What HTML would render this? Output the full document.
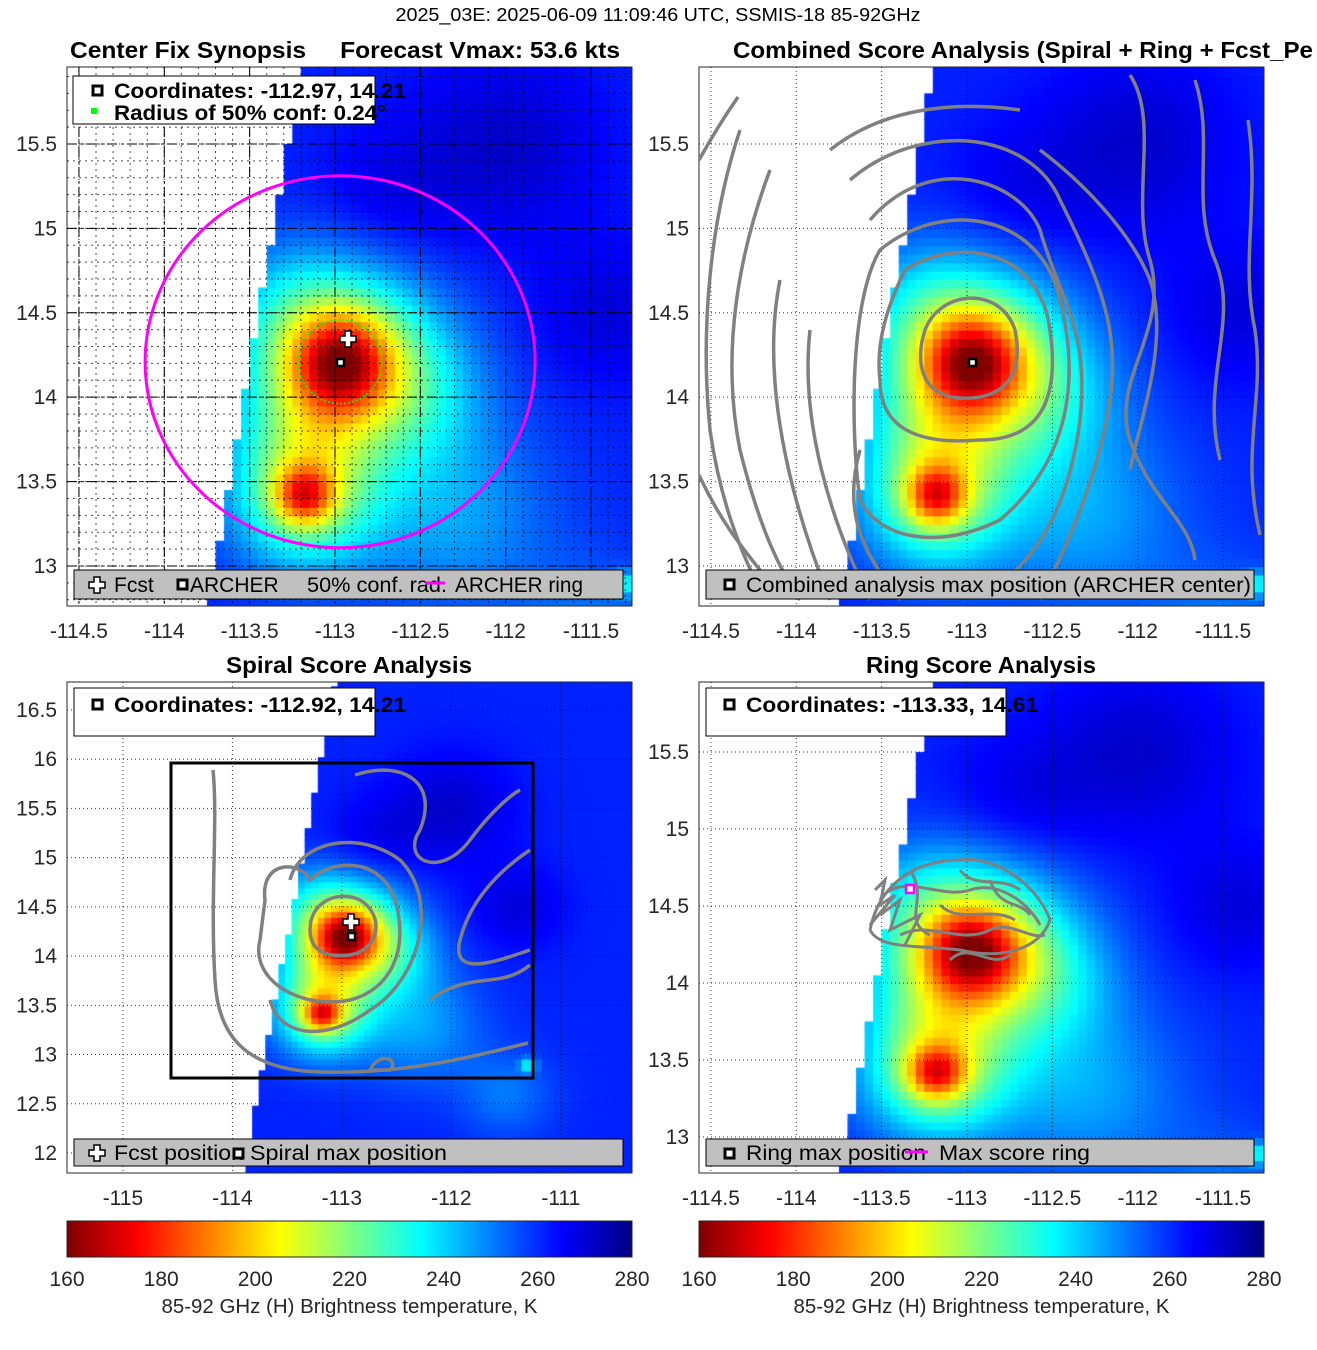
<!DOCTYPE html>
<html><head><meta charset="utf-8">
<style>
body{margin:0;background:#fff;width:1317px;height:1350px;overflow:hidden;position:relative;font-family:"Liberation Sans",sans-serif}
canvas{position:absolute}
svg{position:absolute;left:0;top:0}
</style></head><body>
<canvas id="c1" style="left:67px;top:67px" width="565" height="539"></canvas>
<canvas id="c2" style="left:699px;top:67px" width="565" height="539"></canvas>
<canvas id="c3" style="left:67px;top:682px" width="565" height="491"></canvas>
<canvas id="c4" style="left:699px;top:682px" width="565" height="491"></canvas>
<canvas id="cb1" style="left:67px;top:1221px" width="565" height="36"></canvas>
<canvas id="cb2" style="left:699px;top:1221px" width="565" height="36"></canvas>
<svg id="ov" width="1317" height="1350"></svg>
<script>
// brightness-temperature cold features: lon, lat, depth (K), sigma (deg)
const blobLon = [-112.97,-112.97,-113.18,-113.18,-113.2,-112.5,-112.3,-112.0,-111.4,-111.3,-111.5,-113.3,-112.7];
const blobLat = [14.21,14.21,13.42,13.42,13.8,14.0,13.3,15.5,14.5,12.9,12.6,14.6,15.2];
const blobDepth=[45,55,40,42,8,12,15,-10,-8,25,10,8,-6];
const blobSigma=[0.2,0.38,0.12,0.3,0.25,0.3,0.4,0.4,0.3,0.05,0.3,0.25,0.3];
const baseTb = 261;
const cbTicks = [160,180,200,220,240,260,280];
const p1xTicks=[-114.5,-114,-113.5,-113,-112.5,-112,-111.5];
const p1yTicks=[13,13.5,14,14.5,15,15.5];
const p3xTicks=[-115,-114,-113,-112,-111];
const p3yTicks=[12,12.5,13,13.5,14,14.5,15,15.5,16,16.5];
const p4yTicks=[13,13.5,14,14.5,15,15.5];

const panels=[
 {id:'c1',x0:67,x1:632,y0:67,y1:606,lon0:-114.57,lon1:-111.26,lat0:15.956,lat1:12.763,cell:0.05},
 {id:'c2',x0:699,x1:1264,y0:67,y1:606,lon0:-114.57,lon1:-111.26,lat0:15.956,lat1:12.763,cell:0.05},
 {id:'c3',x0:67,x1:632,y0:682,y1:1173,lon0:-115.511,lon1:-110.35,lat0:16.784,lat1:11.797,cell:0.06},
 {id:'c4',x0:699,x1:1264,y0:682,y1:1173,lon0:-114.57,lon1:-111.26,lat0:15.955,lat1:12.766,cell:0.05}];
function X(p,lon){return p.x0+(lon-p.lon0)/(p.lon1-p.lon0)*(p.x1-p.x0);}
function Y(p,lat){return p.y0+(lat-p.lat0)/(p.lat1-p.lat0)*(p.y1-p.y0);}
function tb(lon,lat){let t=baseTb;for(let i=0;i<blobLon.length;i++){const dx=lon-blobLon[i],dy=lat-blobLat[i];t-=blobDepth[i]*Math.exp(-(dx*dx+dy*dy)/(2*blobSigma[i]*blobSigma[i]));}return Math.max(160,Math.min(280,t));}
function edge(lat){return -113.2-(15.95-lat)*0.17;}
function jet(T){const t=(280-T)/120;const c=v=>Math.round(255*Math.max(0,Math.min(1,v)));return `rgb(${c(1.5-Math.abs(4*t-3))},${c(1.5-Math.abs(4*t-2))},${c(1.5-Math.abs(4*t-1))})`;}
panels.forEach(p=>{const ctx=document.getElementById(p.id).getContext('2d');ctx.fillStyle='#fff';ctx.fillRect(0,0,600,600);
 for(let lat=Math.floor(p.lat1/p.cell)*p.cell;lat<p.lat0+p.cell;lat+=p.cell){for(let lon=Math.floor(p.lon0/p.cell)*p.cell;lon<p.lon1+p.cell;lon+=p.cell){
  const cl=lon+p.cell/2,ca=lat+p.cell/2; if(cl<edge(ca))continue; ctx.fillStyle=jet(tb(cl,ca));
  const a=X(p,lon)-p.x0,b=Y(p,lat+p.cell)-p.y0,w=X(p,lon+p.cell)-X(p,lon)+1,h=Y(p,lat)-Y(p,lat+p.cell)+1;ctx.fillRect(a,b,w,h);}}});
['cb1','cb2'].forEach(id=>{const ctx=document.getElementById(id).getContext('2d');for(let i=0;i<565;i++){ctx.fillStyle=jet(160+i/565*120);ctx.fillRect(i,0,1,36);}});

const NS='http://www.w3.org/2000/svg';const ov=document.getElementById('ov');
function el(tag,attrs,parent){const e=document.createElementNS(NS,tag);for(const k in attrs)e.setAttribute(k,attrs[k]);(parent||ov).appendChild(e);return e;}
function txt(x,y,s,size,anchor,weight,name,len){const t=el('text',{x:x,y:y,'font-size':size,'text-anchor':anchor||'middle','font-weight':weight||'normal',fill:'#000','font-family':'Liberation Sans, sans-serif'});if(len){t.setAttribute('textLength',len);t.setAttribute('lengthAdjust','spacingAndGlyphs');}t.style.whiteSpace='pre';t.textContent=s;return t;}
const defs=el('defs',{});
panels.forEach((p,i)=>{const cp=el('clipPath',{id:'clip'+i},defs);el('rect',{x:p.x0,y:p.y0,width:p.x1-p.x0,height:p.y1-p.y0},cp);});

function axes(i,xt,yt){const p=panels[i];
 xt.forEach(v=>{const x=X(p,v);el('line',{x1:x,x2:x,y1:p.y0,y2:p.y1,stroke:'#000','stroke-width':1,'stroke-dasharray':'1,3',opacity:0.8});
  const t=txt(x,p.y1+32,String(v),21,'middle','normal','x-tick-label');t.setAttribute('fill','#262626');});
 yt.forEach(v=>{const y=Y(p,v);el('line',{x1:p.x0,x2:p.x1,y1:y,y2:y,stroke:'#000','stroke-width':1,'stroke-dasharray':'1,3',opacity:0.8});
  const t=txt(p.x0-10,y+7,String(v),21,'end','normal','y-tick-label');t.setAttribute('fill','#262626');});
 const r=el('rect',{x:p.x0,y:p.y0,width:p.x1-p.x0,height:p.y1-p.y0,fill:'none',stroke:'#262626','stroke-width':1});}
axes(0,p1xTicks,p1yTicks);axes(1,p1xTicks,p1yTicks);axes(2,p3xTicks,p3yTicks);axes(3,p1xTicks,p4yTicks);
// panel1 dense grid
{const p=panels[0];const g=el('g',{'clip-path':'url(#clip0)'});
 for(let v=-114.6;v<-111.2;v+=0.1){const x=X(p,v);el('line',{x1:x,x2:x,y1:p.y0,y2:p.y1,stroke:'#000','stroke-dasharray':'2,4',opacity:0.7},g);}
 for(let v=12.8;v<16;v+=0.1){const y=Y(p,v);el('line',{x1:p.x0,x2:p.x1,y1:y,y2:y,stroke:'#000','stroke-dasharray':'2,4',opacity:0.7},g);}
 p1xTicks.forEach(v=>{const x=X(p,v);el('line',{x1:x,x2:x,y1:p.y0,y2:p.y1,stroke:'#000','stroke-dasharray':'10,4,2,4'},g);});
 p1yTicks.forEach(v=>{const y=Y(p,v);el('line',{x1:p.x0,x2:p.x1,y1:y,y2:y,stroke:'#000','stroke-dasharray':'10,4,2,4'},g);});
 const ring=el('ellipse',{cx:X(p,-112.97),cy:Y(p,14.21),rx:195,ry:186,fill:'none',stroke:'#ff00ff','stroke-width':3},g);
 const cf=el('circle',{cx:X(p,-112.97),cy:Y(p,14.21),r:42,fill:'none',stroke:'#00ff00','stroke-width':1.5,'stroke-dasharray':'2,2'},g);}
// panel2 contours
{const g=el('g',{'clip-path':'url(#clip1)',fill:'none',stroke:'#808080','stroke-width':3.5});
 ['M925,330 C940,290 1000,285 1015,330 C1025,380 1000,400 960,398 C920,396 915,360 925,330 Z',
  'M905,270 C960,235 1040,250 1050,330 C1060,400 1040,440 980,440 C920,445 880,430 880,380 C875,340 890,300 905,270 Z',
  'M880,250 C940,200 1040,210 1060,300 C1080,380 1070,460 1000,520 C940,550 880,540 860,500 C850,430 850,300 880,250 Z',
  'M870,220 C930,150 1020,180 1040,230 C1060,300 1090,330 1080,420 C1070,500 1040,560 990,590 M860,450 C840,520 870,560 900,600',
  'M850,180 C920,120 1030,130 1060,200 C1100,280 1120,330 1110,400 C1100,470 1070,540 1040,600 M810,330 C800,420 830,520 870,600',
  'M830,150 C880,110 950,100 1020,110 M780,280 C760,380 790,500 830,600 M1040,150 C1080,180 1130,230 1150,280 C1170,340 1140,420 1130,470',
  'M770,170 C740,250 720,350 740,450 C760,530 780,570 800,600',
  'M740,130 C710,220 700,330 710,430 C720,500 740,550 760,590',
  'M738,97 C715,130 705,150 699,160 M699,475 C720,520 740,545 760,570',
  'M1130,75 C1160,120 1130,200 1150,260 C1170,330 1110,380 1130,440 C1150,500 1190,520 1195,560',
  'M1195,80 C1215,140 1190,200 1215,260 C1240,320 1200,380 1220,460',
  'M1248,120 C1260,200 1240,260 1255,330 C1265,400 1240,450 1260,535'].forEach(d=>el('path',{d:d},g));
 el('rect',{x:969,y:359,width:7,height:7,fill:'#fff',stroke:'#000','stroke-width':2.5});}
// panel3 contours
{const g=el('g',{'clip-path':'url(#clip2)',fill:'none',stroke:'#808080','stroke-width':3.5});
 ['M213,770 C218,820 210,900 215,980 C218,1040 250,1070 320,1072 C400,1074 460,1060 528,1043',
  'M265,900 C260,860 300,860 310,880 C330,860 380,855 395,900 C410,950 390,990 350,1000 C300,1010 250,980 260,940 Z',
  'M310,930 C310,900 340,890 360,900 C385,915 380,950 350,955 C325,958 310,950 310,930 Z',
  'M290,880 C300,840 360,830 400,860 C440,900 420,980 370,1010 C330,1040 280,1040 270,1000',
  'M355,775 C400,760 440,780 420,830 C400,860 440,880 470,840 C500,800 520,790 520,790',
  'M530,850 C500,870 470,900 460,940 C450,980 500,960 530,950',
  'M430,1000 C470,970 500,990 530,965','M370,1070 C380,1050 400,1060 390,1070 Z'].forEach(d=>el('path',{d:d},g));
 const bx=el('rect',{x:171,y:763,width:362,height:315,fill:'none',stroke:'#000','stroke-width':3});
 el('path',{d:'M348,914 h6 v5 h5 v6 h-5 v5 h-6 v-5 h-5 v-6 h5 Z',fill:'#fff',stroke:'#000','stroke-width':1.5});
 el('rect',{x:348,y:933,width:7,height:7,fill:'#fff',stroke:'#000','stroke-width':2.5});}
// panel4 scribble
{const g=el('g',{'clip-path':'url(#clip3)',fill:'none',stroke:'#808080','stroke-width':3});
 ['M870,930 C880,880 920,860 960,860 C1000,855 1040,890 1050,920 C1040,950 1000,960 960,950 C920,945 880,950 870,930',
  'M880,900 C900,870 940,900 970,890 C1000,880 1030,905 1040,925','M900,935 C930,920 960,945 990,930 C1010,920 1030,940 1045,935',
  'M910,870 C930,900 900,920 930,935','M950,960 C970,940 990,970 1010,955','M990,880 C1000,910 1020,900 1030,915',
  'M880,915 L900,900 L890,930 L920,915 L905,945','M940,905 C960,925 990,905 1015,920',
  'M875,890 L885,880 L880,905 L895,895 L870,925','M960,870 C975,890 1000,875 1020,890'].forEach(d=>el('path',{d:d},g));
 el('rect',{x:906,y:885,width:8,height:8,fill:'#fff',stroke:'#ff00ff','stroke-width':2.5});}
// panel1 markers
el('path',{d:'M345,331 h6 v5 h5 v6 h-5 v5 h-6 v-5 h-5 v-6 h5 Z',fill:'#fff',stroke:'#000','stroke-width':1.5});
el('rect',{x:337,y:359,width:7,height:7,fill:'#fff',stroke:'#000','stroke-width':2.5});

function box(x,y,w,h,fill,name){const r=el('rect',{x:x,y:y,width:w,height:h,fill:fill,stroke:'#000','stroke-width':1});}
function sq(x,y,c){el('rect',{x:x,y:y,width:9,height:9,fill:'#fff',stroke:c||'#000','stroke-width':3});}
function cross(x,y){el('path',{d:`M${x-3},${y-8} h6 v5 h5 v6 h-5 v5 h-6 v-5 h-5 v-6 h5 Z`,fill:'#fff',stroke:'#000','stroke-width':1.5});}
// legends top
box(73,76,302,48,'#fff','coords-legend-1');sq(93,86);el('rect',{x:91,y:108,width:6,height:6,fill:'#00ff00'});
txt(114,98,'Coordinates: -112.97, 14.21',21,'start','bold','coords-text',292);txt(114,120,'Radius of 50% conf: 0.24°',21,'start','bold','radius-text',272);
box(74,688,301,48,'#fff','coords-legend-3');sq(93,700);txt(114,712,'Coordinates: -112.92, 14.21',21,'start','bold','coords-text',292);
box(706,688,300,48,'#fff','coords-legend-4');sq(725,700);txt(746,712,'Coordinates: -113.33, 14.61',21,'start','bold','coords-text',292);
// bottom legends
box(74,570,549,29,'#c0c0c0','legend-1');cross(97,585);txt(114,592,'Fcst',21,'start');sq(178,580);txt(190,592,'ARCHER',21,'start');txt(307,592,'50% conf. rad.',21,'start','normal','label',140);
el('line',{x1:425,x2:445,y1:583,y2:583,stroke:'#ff00ff','stroke-width':3});txt(455,592,'ARCHER ring',21,'start','normal','label',128);
box(706,570,548,29,'#c0c0c0','legend-2');sq(725,580);txt(746,592,'Combined analysis max position (ARCHER center)',21,'start','normal','label',505);
box(74,1139,549,27,'#c0c0c0','legend-3');cross(97,1153);txt(114,1160,'Fcst position',21,'start','normal','label',130);sq(234,1149);txt(250,1160,'Spiral max position',21,'start','normal','label',197);
box(706,1139,548,27,'#c0c0c0','legend-4');sq(725,1149);txt(746,1160,'Ring max position',21,'start','normal','label',180);el('line',{x1:905,x2:928,y1:1152,y2:1152,stroke:'#ff00ff','stroke-width':3});txt(939,1160,'Max score ring',21,'start','normal','label',151);
// titles
txt(658,21,'2025_03E: 2025-06-09 11:09:46 UTC, SSMIS-18 85-92GHz',18,'middle','normal','figure-title',525);
txt(70,58,'Center Fix Synopsis     Forecast Vmax: 53.6 kts',23,'start','bold','title-1',550);
txt(733,58,'Combined Score Analysis (Spiral + Ring + Fcst_Pe',23,'start','bold','title-2',580);
txt(349,673,'Spiral Score Analysis',23,'middle','bold','title-3',246);
txt(981,673,'Ring Score Analysis',23,'middle','bold','title-4',230);
// colorbars
[[67,632],[699,1264]].forEach(c=>{el('rect',{x:c[0],y:1221,width:565,height:36,fill:'none',stroke:'#262626'});
 cbTicks.forEach(v=>{const x=c[0]+(v-160)/120*565;const t=txt(x,1286,String(v),21,'middle','normal','colorbar-tick');t.setAttribute('fill','#262626');});
 const t=txt((c[0]+c[1])/2,1313,'85-92 GHz (H) Brightness temperature, K',20,'middle','normal','colorbar-label',376);t.setAttribute('fill','#262626');});
</script>
</body></html>
